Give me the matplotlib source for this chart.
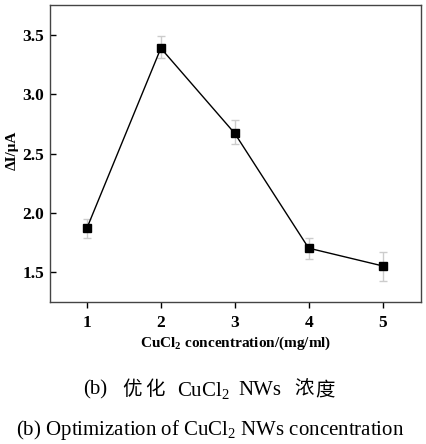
import matplotlib.pyplot as plt

plt.rcParams['font.family'] = ['Liberation Serif', 'Noto Sans CJK SC']
plt.rcParams['mathtext.fontset'] = 'custom'
plt.rcParams['mathtext.rm'] = 'Liberation Serif'
plt.rcParams['mathtext.it'] = 'Liberation Serif:italic'
plt.rcParams['mathtext.bf'] = 'Liberation Serif:bold'

# data
conc = [1, 2, 3, 4, 5]
delta_i = [1.87, 3.39, 2.67, 1.70, 1.55]
err_lo = [0.08, 0.08, 0.09, 0.09, 0.13]
err_hi = [0.08, 0.10, 0.11, 0.09, 0.12]
xticks = [1, 2, 3, 4, 5]
yticks = [1.5, 2.0, 2.5, 3.0, 3.5]

W, H = 426, 444
fig = plt.figure(figsize=(W / 100, H / 100), dpi=100)
ax = fig.add_axes([50 / W, 1 - 302 / H, 371 / W, 297 / H])

ax.errorbar(conc, delta_i, yerr=[err_lo, err_hi], fmt='none', ecolor='#cccccc',
            elinewidth=1, capsize=3, capthick=1, zorder=1)
ax.plot(conc, delta_i, color='black', lw=1, marker='s', ms=6, zorder=2)

ax.set_xlim(0.5, 5.52)
ax.set_ylim(1.245, 3.755)
ax.set_xticks(xticks)
ax.set_yticks(yticks)
ax.tick_params(axis='x', direction='out', length=4, width=1, labelsize=12.5, pad=5)
ax.tick_params(axis='y', direction='in', length=4, width=1, labelsize=12.5, pad=4)
for lab in ax.get_xticklabels() + ax.get_yticklabels():
    lab.set_fontweight('bold')
for sp in ax.spines.values():
    sp.set_color('#444444')
    sp.set_linewidth(1)

fig.text(12 / W, 1 - 150 / H, 'ΔI/μA', rotation=90, ha='center', va='center',
         fontsize=11, fontweight='bold')
fig.text(236 / W, 1 - 343 / H, r'CuCl$_\mathbf{2}$ concentration/(mg/ml)', ha='center',
         va='center', fontsize=11, fontweight='bold')

# Chinese caption, placed piece by piece (mathtext does not fall back to CJK)
cap_pieces = [(83, '(b)', 15), (122, '优', 14), (145, '化', 14), (177, r'CuCl$_2$', 15),
              (238, 'NWs', 15), (294, '浓', 14), (315, '度', 14)]
for x0, s, fs in cap_pieces:
    fig.text(x0 / W, 1 - 390 / H, s, ha='left', va='center', fontsize=fs)

fig.text(210 / W, 1 - 430 / H, r'(b) Optimization of CuCl$_2$ NWs concentration',
         ha='center', va='center', fontsize=15)

fig.savefig('out.png', dpi=100)
